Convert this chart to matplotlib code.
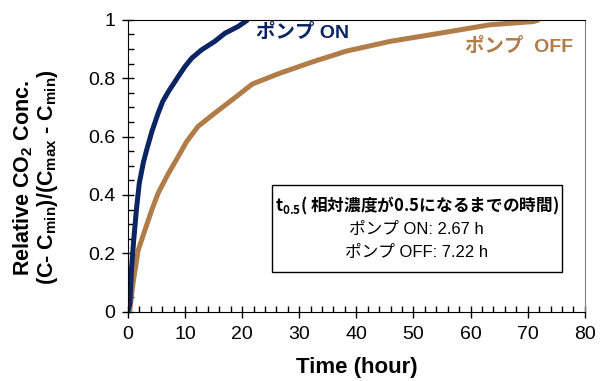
import numpy as np
import matplotlib
matplotlib.use('Agg')
import matplotlib.pyplot as plt
from matplotlib.ticker import MultipleLocator
from matplotlib.patches import Rectangle

plt.rcParams['font.family'] = ['Liberation Sans', 'Noto Sans CJK JP']
plt.rcParams['mathtext.default'] = 'regular'

# ポンプ ON (読み取り値)
t_on = [0, 0.35, 0.65, 1.0, 1.5, 2.0, 2.7, 3.3, 4.2, 5.3, 6.1, 7.1, 8.8, 10.0, 11.2, 12.9, 15.2, 17.0, 19.3, 21.0]
c_on = [0, 0.03, 0.15, 0.24, 0.35, 0.44, 0.51, 0.555, 0.617, 0.68, 0.72, 0.754, 0.805, 0.84, 0.869, 0.897,
        0.926, 0.954, 0.977, 1.0]

# ポンプ OFF (読み取り値)
t_off = [0, 0.35, 0.9, 1.8, 3.0, 4.2, 5.3, 7.0, 8.8, 10.3, 12.3, 15.2, 18.2, 21.8, 26.6, 32.5,
         38.3, 45.9, 54.6, 63.4, 71.0, 72.0]
c_off = [0, 0.006, 0.097, 0.21, 0.28, 0.349, 0.406, 0.47, 0.531, 0.583, 0.635, 0.68, 0.725, 0.78, 0.817, 0.857,
         0.893, 0.926, 0.954, 0.983, 0.994, 1.0]

t05_on = 2.67
t05_off = 7.22

col_on = '#0b2463'
col_off = '#b07c47'

fig = plt.figure(figsize=(6.06, 3.81), dpi=100)
ax = fig.add_axes([0.211, 0.182, 0.754, 0.766])

ax.plot(t_off, c_off, color=col_off, lw=3.6, solid_joinstyle='round', solid_capstyle='butt')
ax.plot(t_on, c_on, color=col_on, lw=3.6, solid_joinstyle='round', solid_capstyle='butt')

ax.set_xlim(0, 80)
ax.set_ylim(0, 1)
ax.xaxis.set_major_locator(MultipleLocator(10))
ax.xaxis.set_minor_locator(MultipleLocator(2))
ax.yaxis.set_minor_locator(MultipleLocator(0.05))
ax.set_yticks([0, 0.2, 0.4, 0.6, 0.8, 1.0])
ax.set_yticklabels(['0', '0.2', '0.4', '0.6', '0.8', '1'])
ax.tick_params(which='major', direction='inout', length=8, width=1, labelsize=14)
ax.tick_params(which='minor', direction='in', length=4, width=1)
ax.tick_params(axis='x', pad=6)
ax.tick_params(axis='y', pad=5)
ax.tick_params(top=False, right=False)
ax.spines['right'].set_color('#808080')

ax.set_xlabel('Time (hour)', fontsize=16, fontweight='bold')
ax.xaxis.set_label_coords(0.5, -0.155)
ax.set_ylabel('Relative CO$_2$ Conc.\n(C- C$_{min}$)/(C$_{max}$ - C$_{min}$)',
              fontsize=15.5, fontweight='bold', linespacing=1.0)
ax.yaxis.set_label_coords(-0.148, 0.46)

ax.text(22.5, 0.955, 'ポンプ ON', color=col_on, fontsize=14, fontweight='bold', va='center')
ax.text(59, 0.907, 'ポンプ  OFF', color=col_off, fontsize=14, fontweight='bold', va='center')

# 注記ボックス
ax.add_patch(Rectangle((25.3, 0.136), 50.7, 0.298, fc='white', ec='black', lw=1, zorder=3))
ax.text(50.6, 0.362, '$t_{0.5}$( 相対濃度が0.5になるまでの時間)', family='Noto Sans CJK JP',
        fontweight='bold', ha='center', va='center', fontsize=12, zorder=4)
ax.text(50.6, 0.28, 'ポンプ ON: %.2f h' % t05_on, ha='center', va='center', fontsize=12, zorder=4)
ax.text(50.6, 0.204, 'ポンプ OFF: %.2f h' % t05_off, ha='center', va='center', fontsize=12, zorder=4)

fig.savefig('out.png', dpi=100)
